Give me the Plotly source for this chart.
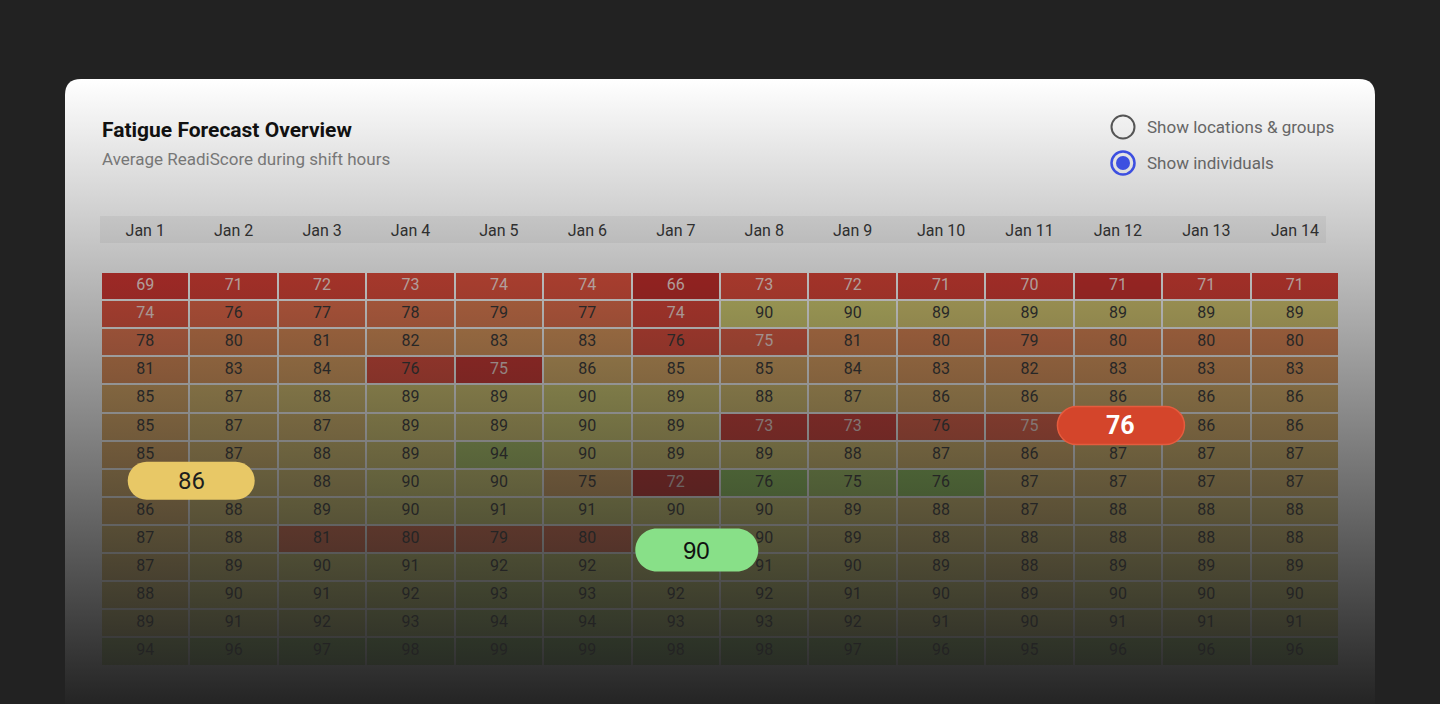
import plotly.graph_objects as go

W, H = 1440, 704

dates = ["Jan 1", "Jan 2", "Jan 3", "Jan 4", "Jan 5", "Jan 6", "Jan 7",
         "Jan 8", "Jan 9", "Jan 10", "Jan 11", "Jan 12", "Jan 13", "Jan 14"]
individuals = list(range(14))

scores = [
    [69, 71, 72, 73, 74, 74, 66, 73, 72, 71, 70, 71, 71, 71],
    [74, 76, 77, 78, 79, 77, 74, 90, 90, 89, 89, 89, 89, 89],
    [78, 80, 81, 82, 83, 83, 76, 75, 81, 80, 79, 80, 80, 80],
    [81, 83, 84, 76, 75, 86, 85, 85, 84, 83, 82, 83, 83, 83],
    [85, 87, 88, 89, 89, 90, 89, 88, 87, 86, 86, 86, 86, 86],
    [85, 87, 87, 89, 89, 90, 89, 73, 73, 76, 75, 76, 86, 86],
    [85, 87, 88, 89, 94, 90, 89, 89, 88, 87, 86, 87, 87, 87],
    [86, 88, 88, 90, 90, 75, 72, 76, 75, 76, 87, 87, 87, 87],
    [86, 88, 89, 90, 91, 91, 90, 90, 89, 88, 87, 88, 88, 88],
    [87, 88, 81, 80, 79, 80, 91, 90, 89, 88, 88, 88, 88, 88],
    [87, 89, 90, 91, 92, 92, 91, 91, 90, 89, 88, 89, 89, 89],
    [88, 90, 91, 92, 93, 93, 92, 92, 91, 90, 89, 90, 90, 90],
    [89, 91, 92, 93, 94, 94, 93, 93, 92, 91, 90, 91, 91, 91],
    [94, 96, 97, 98, 99, 99, 98, 98, 97, 96, 95, 96, 96, 96],
]

# (row, col, colour tone) where the cell colour differs from its score
tone_overrides = [
    (0, 11, 67), (1, 6, 72), (2, 6, 73), (3, 3, 73), (3, 4, 68),
    (5, 7, 70), (5, 8, 70), (5, 9, 75), (5, 10, 75), (5, 11, 75),
    (7, 5, 85), (7, 6, 66), (7, 7, 97), (7, 8, 95), (7, 9, 97),
    (9, 2, 77), (9, 3, 77), (9, 4, 77), (9, 5, 77),
]

# highlighted callouts: (row, col, value, fill, text colour)
callouts = [
    (7, 0, 86, "#e8c866", "#1e1e1e"),
    (9, 6, 90, "#88e088", "#111111"),
    (5, 11, 76, "#d4452b", "#ffffff"),
]
callout_style = [  # dx, dy (px, y down), width, height, font, size, bold
    (46, -2, 127, 38, "Roboto", 24, False),
    (21, 11, 123, 43, "Liberation Sans", 24, False),
    (3, -1, 127, 38, "Roboto", 25, True),
]

title = "Fatigue Forecast Overview"
subtitle = "Average ReadiScore during shift hours"
options = ["Show locations & groups", "Show individuals"]

tone = [row[:] for row in scores]
for r, c, t in tone_overrides:
    tone[r][c] = t

ZMIN, ZMAX = 64, 100
anchors = [
    (64, "#b81c1c"), (66, "#c4221f"), (69, "#d42c27"), (72, "#dd3a2c"),
    (74, "#e44a34"), (76, "#e8603e"), (78, "#e67046"), (80, "#df8049"),
    (83, "#df9553"), (86, "#dcae60"), (88, "#d8c068"), (90, "#d6d06c"),
    (92, "#c8cc66"), (94, "#aecb60"), (97, "#8ec854"), (100, "#80c050"),
]
colorscale = [[(v - ZMIN) / (ZMAX - ZMIN), c] for v, c in anchors]


def px(x):
    return x / W


def py(y):
    return 1 - y / H


fig = go.Figure()

fig.add_trace(go.Heatmap(
    z=tone, x=dates, y=individuals, colorscale=colorscale,
    zmin=ZMIN, zmax=ZMAX, showscale=False, xgap=2, ygap=2,
    hoverinfo="skip", xaxis="x", yaxis="y",
))

covered = {(r, c) for r, c, _, _, _ in callouts}
tx, ty, tt, tc = [], [], [], []
for r, row in enumerate(scores):
    for c, v in enumerate(row):
        if (r, c) in covered:
            continue
        tx.append(dates[c])
        ty.append(individuals[r])
        tt.append(str(v))
        light = v <= 75 and tone[r][c] <= 75
        tc.append("rgba(250,236,232,0.92)" if light else "#2b2b2b")

fig.add_trace(go.Scatter(
    x=tx, y=ty, text=tt, mode="text",
    textfont=dict(family="Roboto", size=16, color=tc),
    hoverinfo="skip", showlegend=False, xaxis="x", yaxis="y",
))

# fading overlay across the card
fig.add_trace(go.Scatter(
    x=[65, 1375, 1375, 65, 65], y=[79, 79, 712, 712, 79],
    mode="lines", line=dict(width=0), fill="toself",
    fillgradient=dict(type="vertical", start=79, stop=704,
                      colorscale=[[0, "rgba(34,34,34,0)"],
                                  [0.5, "rgba(34,34,34,0.50)"],
                                  [1, "rgba(34,34,34,0.99)"]]),
    hoverinfo="skip", showlegend=False, xaxis="x2", yaxis="y2",
))

shapes = []
# card with rounded top corners
R = 16
x0, x1, y0, y1 = 65, 1375, 79, 720
card_path = (
    f"M {px(x0)},{py(y1)} L {px(x0)},{py(y0 + R)} "
    f"Q {px(x0)},{py(y0)} {px(x0 + R)},{py(y0)} "
    f"L {px(x1 - R)},{py(y0)} Q {px(x1)},{py(y0)} {px(x1)},{py(y0 + R)} "
    f"L {px(x1)},{py(y1)} Z"
)
shapes.append(dict(type="path", path=card_path, xref="paper", yref="paper",
                   fillcolor="#ffffff", line=dict(width=0), layer="below"))
# header band
shapes.append(dict(type="rect", xref="paper", yref="paper",
                   x0=px(100), x1=px(1326), y0=py(243), y1=py(216),
                   fillcolor="#f2f2f2", line=dict(width=0), layer="below"))


def circle(cx, cy, r, **kw):
    return dict(type="circle", xref="paper", yref="paper",
                x0=px(cx - r), x1=px(cx + r), y0=py(cy + r), y1=py(cy - r),
                layer="above", **kw)


shapes.append(circle(1123, 127, 11.5, line=dict(color="#555555", width=2),
                     fillcolor="rgba(0,0,0,0)"))
shapes.append(circle(1123, 163, 11.5, line=dict(color="#3d4fe0", width=2.5),
                     fillcolor="rgba(0,0,0,0)"))
shapes.append(circle(1123, 163, 7, line=dict(width=0), fillcolor="#3d50e0"))


def pill(dx, dy, w, h):
    k = 0.5523
    r = h / 2
    cx, cy = dx, -dy
    L, Rr, T, B = cx - w / 2, cx + w / 2, cy + h / 2, cy - h / 2
    return (
        f"M {L + r},{T} L {Rr - r},{T} "
        f"C {Rr - r + k * r},{T} {Rr},{cy + k * r} {Rr},{cy} "
        f"C {Rr},{cy - k * r} {Rr - r + k * r},{B} {Rr - r},{B} "
        f"L {L + r},{B} "
        f"C {L + r - k * r},{B} {L},{cy - k * r} {L},{cy} "
        f"C {L},{cy + k * r} {L + r - k * r},{T} {L + r},{T} Z"
    )


annotations = []
for (r, c, val, fill, fc), (dx, dy, w, h, fam, size, bold) in zip(callouts, callout_style):
    label = str(val)
    line = dict(color="#e45c3e", width=1.5) if bold else dict(width=0)
    shapes.append(dict(type="path", xref="x", yref="y",
                       xsizemode="pixel", ysizemode="pixel",
                       xanchor=dates[c], yanchor=individuals[r],
                       path=pill(dx, dy, w, h), fillcolor=fill,
                       line=line, layer="above"))
    annotations.append(dict(
        x=dates[c], y=individuals[r], xref="x", yref="y",
        xshift=dx, yshift=-dy, showarrow=False,
        text=f"<b>{label}</b>" if bold else label,
        font=dict(family=fam, size=size, color=fc),
    ))

annotations.append(dict(x=px(100), y=py(130), xref="paper", yref="paper",
                        xanchor="left", yanchor="middle", showarrow=False,
                        text=f"<b>{title}</b>",
                        font=dict(family="Roboto", size=21, color="#111111")))
annotations.append(dict(x=px(100), y=py(159), xref="paper", yref="paper",
                        xanchor="left", yanchor="middle", showarrow=False,
                        text=subtitle,
                        font=dict(family="Roboto", size=17, color="#777777")))
for i, opt in enumerate(options):
    annotations.append(dict(x=px(1145), y=py(127 + 36 * i), xref="paper",
                            yref="paper", xanchor="left", yanchor="middle",
                            showarrow=False, text=opt,
                            font=dict(family="Roboto", size=17,
                                      color="#666666")))

fig.update_layout(
    width=W, height=H, margin=dict(l=0, r=0, t=0, b=0),
    paper_bgcolor="#222222", plot_bgcolor="rgba(0,0,0,0)",
    showlegend=False, shapes=shapes, annotations=annotations,
    xaxis=dict(domain=[101 / W, 1339 / W], type="category", side="top",
               range=[-0.5, len(dates) - 0.5],
               showgrid=False, zeroline=False, showline=False, ticks="",
               ticklabelstandoff=32, anchor="y",
               tickfont=dict(family="Roboto", size=16, color="#333333"),
               fixedrange=True),
    yaxis=dict(domain=[1 - 665.5 / H, 1 - 272 / H], range=[13.5, -0.5],
               visible=False, anchor="x", fixedrange=True),
    xaxis2=dict(domain=[0, 1], range=[0, W], visible=False, anchor="y2",
                fixedrange=True),
    yaxis2=dict(domain=[0, 1], range=[H, 0], visible=False, anchor="x2",
                fixedrange=True),
    font=dict(family="Roboto"),
)

fig.write_html("out.html")
